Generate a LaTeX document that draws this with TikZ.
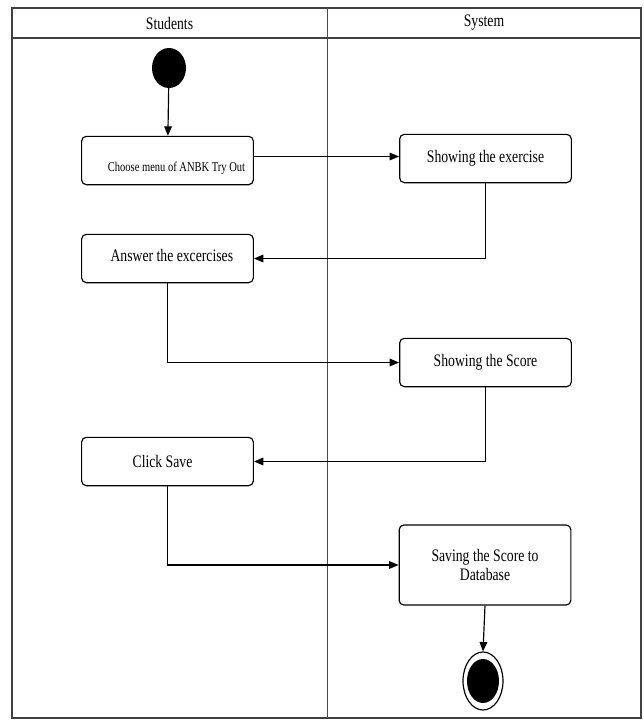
\documentclass[tikz,border=0pt]{standalone}
\usepackage{fontspec}
\setmainfont{Liberation Serif}[FakeStretch=0.78]
\usetikzlibrary{arrows.meta,shapes.geometric}

\tikzset{
    act/.style={draw,line width=1pt,rounded corners=4pt,minimum width=5.15cm,
        minimum height=1.45cm,inner sep=0pt,font=\fontsize{15}{17}\selectfont},
    flow/.style={line width=1pt,-{Triangle[length=8pt,width=6.5pt]}},
    lane/.style={line width=1pt,draw=black!75}
}

\begin{document}
\begin{tikzpicture}[x=0.03cm,y=-0.03cm]
                \useasboundingbox (0,0) rectangle (644,720);
                % swimlanes
                \draw[lane] (12,8) rectangle (641,718);
                \draw[lane] (12,38) -- (641,38);
                \draw[line width=0.6pt,draw=black!70] (327,8) -- (327,718);
                \node[font=\fontsize{15}{17}\selectfont] (students) at (169.5,23) {Students};
                \node[font=\fontsize{15}{17}\selectfont] (system) at (484,23) {System};
                % start
                \node[ellipse,fill,minimum width=1.02cm,minimum height=1.2cm,inner sep=0pt] (start) at (169,68) {};
                % activities
                \node[act,label={[xshift=0.27cm,yshift=-0.24cm,font=\fontsize{11.5}{13}\selectfont]center:Choose menu of ANBK Try Out}] (choose) at (167.5,160.5) {};
                \node[act] (showex) at (485.5,158.5) {Showing the exercise};
                \node[act,label={[xshift=0.13cm,yshift=0.1cm,font=\fontsize{15}{17}\selectfont]center:Answer the excercises}] (answer) at (167.5,258.5) {};
                \node[act] (showscore) at (485.5,362.5) {Showing the Score};
                \node[act,label={[xshift=-0.15cm,font=\fontsize{15}{17}\selectfont]center:Click Save}] (clicksave) at (167.5,461.5) {};
                \node[act,minimum height=2.4cm,align=center] (savescore) at (485,565) {Saving the Score to\\Database};
                % end
                \node[ellipse,draw,line width=1pt,minimum width=1.2cm,minimum height=1.74cm,inner sep=0pt] (end) at (483,681) {};
                \node[ellipse,fill,minimum width=0.96cm,minimum height=1.32cm,inner sep=0pt] (endin) at (end.center) {};
                % flows
                \draw[flow] (start) -- (choose);
                \draw[flow] ([yshift=0.12cm]choose.east) -- ([yshift=0.12cm]choose.east -| showex.west);
                \draw[flow] (showex.south) |- (answer.east);
                \draw[flow] (answer.south) |- (showscore.west);
                \draw[flow] (showscore.south) |- (clicksave.east);
                \draw[flow] (clicksave.south) |- (savescore.west);
                \draw[flow] (savescore.south) -- (end.north);
\end{tikzpicture}
\end{document}
